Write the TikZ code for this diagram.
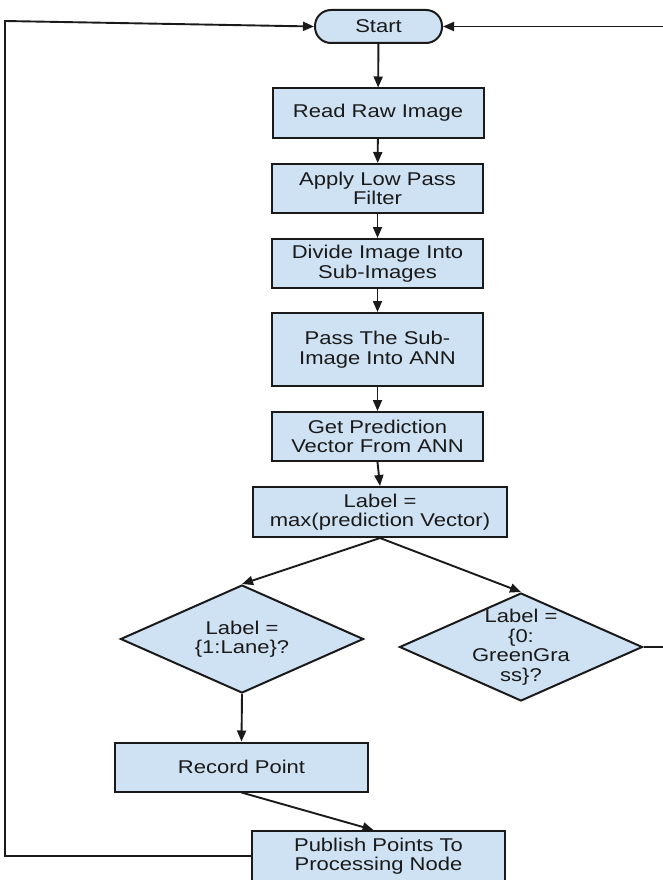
\documentclass[tikz,border=0pt]{standalone}
\usepackage{fontspec}
\setmainfont[FakeStretch=1.19]{Liberation Sans}
\usetikzlibrary{shapes.geometric,arrows.meta,calc}
\definecolor{boxblue}{HTML}{CFE2F3}
\definecolor{ink}{HTML}{1A1A1A}
\tikzset{
  base/.style={draw=ink, fill=boxblue, line width=2pt, inner sep=0pt,
    align=center, text=ink, font=\fontsize{18.5}{19.5}\selectfont},
  process/.style={base, rectangle, minimum width=#1, minimum height=49pt},
  process/.default=211pt,
  terminal/.style={base, rectangle, rounded corners=16pt, minimum width=127pt, minimum height=33pt},
  decision/.style={base, diamond, minimum width=243pt, minimum height=108pt},
  flow/.style={draw=ink, line width=1.9pt, -{Triangle[length=11pt,width=9pt]}},
  inlabel/.style={align=center, text=ink, font=\fontsize{18.5}{19.5}\selectfont}
}
\begin{document}
\begin{tikzpicture}[x=1pt,y=-1pt]
\useasboundingbox (0,0) rectangle (663,880);

% main column of steps
\node[terminal] (start) at (378.5,26.5) {Start};
\node[process] (read) at (378,113) {Read Raw Image};
\node[process] (lowpass) at (377.5,188.5) {Apply Low Pass\\Filter};
\node[process] (divide) at (377.5,263.5) {Divide Image Into\\Sub-Images};
\node[process, minimum height=73pt] (pass) at (377.5,349.5) {Pass The Sub-\\Image Into ANN};
\node[process] (getpred) at (377.5,436.5) {Get Prediction\\Vector From ANN};
\node[process=254pt, minimum height=50pt] (label) at (380,512) {Label =\\max(prediction Vector)};

% the two decisions
\node[decision, label={[inlabel]center:{Label =\\\{1:Lane\}?}}] (lane) at (242,639) {};
\node[decision, label={[inlabel]center:{Label =\\\{0:\\GreenGra\\ss\}?}}] (grass) at (521,647) {};

% output steps
\node[process=253pt] (record) at (241.5,767) {Record Point};
\node[process=253pt, minimum height=50pt] (publish) at (378.5,856) {Publish Points To\\Processing Node};

% loop-back corners
\coordinate (lloop) at (5,21);
\coordinate (rloop) at (700,26.5);

% connectors
\draw[flow] (start) -- (read);
\draw[flow] (read) -- (lowpass);
\draw[flow] (lowpass) -- (divide);
\draw[flow] (divide) -- (pass);
\draw[flow] (pass) -- (getpred);
\draw[flow] (getpred.south) -- (label.north);
\draw[flow] (label.south) -- (lane.north);
\draw[flow] (label.south) -- (grass.north);
\draw[flow] (lane.south) -- (record.north);
\draw[flow] (record.south) -- ($(publish.north)+(-5,0)$);
\draw[flow] (publish.west) -- (publish.west -| lloop) -- (lloop) -- (start.west);
\draw[flow] (grass.east) -- (grass.east -| rloop) -- (rloop) -- (start.east);
\end{tikzpicture}
\end{document}
